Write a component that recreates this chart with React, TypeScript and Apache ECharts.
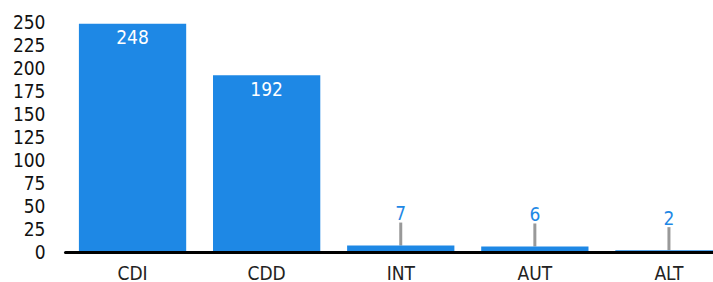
import React, { useEffect, useRef } from "react";
import * as echarts from "echarts";

const categories = ["CDI", "CDD", "INT", "AUT", "ALT"];
const values = [248, 192, 7, 6, 2];
const yTicks = [0, 25, 50, 75, 100, 125, 150, 175, 200, 225, 250];

const BLUE = "#1E88E5";
const FONT = "'DejaVu Sans Condensed', 'DejaVu Sans', sans-serif";

export default function App() {
  const ref = useRef<HTMLDivElement>(null);
  useEffect(() => {
    if (!ref.current) return;
    const chart = echarts.init(ref.current, null, { renderer: "svg" });
    const threshold = 50;
    chart.setOption({
      animation: false,
      grid: { left: 65.5, right: 0, top: 22, bottom: 29, containLabel: false },
      xAxis: {
        type: "category",
        data: categories,
        axisLine: { show: true, lineStyle: { color: "#000", width: 3 } },
        axisTick: { show: false },
        axisLabel: { color: "#222", fontFamily: FONT, fontSize: 19, margin: 11 },
        z: 5,
      },
      yAxis: {
        type: "value",
        min: yTicks[0],
        max: yTicks[yTicks.length - 1],
        interval: 25,
        axisLine: { show: false },
        axisTick: { show: false },
        splitLine: { show: false },
        axisLabel: { color: "#111", fontFamily: FONT, fontSize: 19, margin: 20 },
      },
      series: [
        {
          type: "bar",
          barWidth: "80%",
          itemStyle: { color: BLUE },
          data: values.map((v) => ({
            value: v,
            label:
              v >= threshold
                ? { show: true, position: "insideTop", distance: 4, color: "#fff" }
                : { show: true, position: "top", distance: 5, color: BLUE },
          })),
          label: { show: true, fontFamily: FONT, fontSize: 19 },
          labelLine: { show: true, lineStyle: { color: "#999", width: 3 } },
          labelLayout: (params: any) =>
            values[params.dataIndex] < threshold ? { dy: -18 } : {},
        },
      ],
    });
    return () => chart.dispose();
  }, []);
  return (
    <div
      style={{ position: "fixed", left: 0, top: 0, width: 713, height: 282, overflow: "hidden", background: "#fff" }}
    >
      <div ref={ref} style={{ width: 736, height: 282 }} />
    </div>
  );
}
